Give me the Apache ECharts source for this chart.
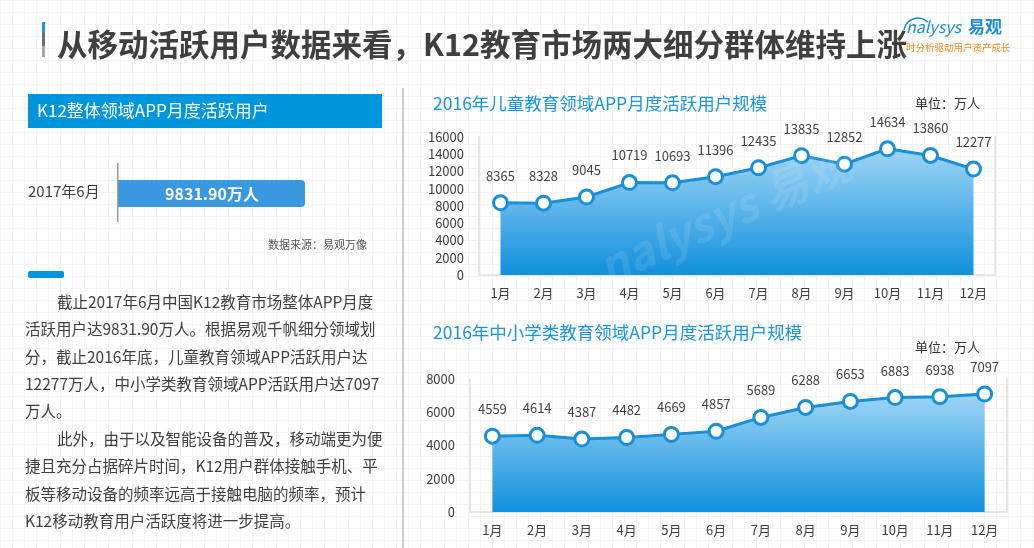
<!DOCTYPE html>
<html>
<head>
<meta charset="utf-8">
<script src="https://cdn.jsdelivr.net/npm/echarts@6/dist/echarts.min.js"></script>
<style>
html,body{margin:0;padding:0;width:1034px;height:548px;overflow:hidden;}
body{
  background-color:#ffffff;
  background-image:
    linear-gradient(to right, #f3f3f3 1px, transparent 1px),
    linear-gradient(to bottom, #f3f3f3 1px, transparent 1px);
  background-size:12px 12px;
}
#c{width:1034px;height:548px;}
</style>
</head>
<body>
<div id="c"></div>
<script>
// ---- data ----
var months = ['1月','2月','3月','4月','5月','6月','7月','8月','9月','10月','11月','12月'];
var childValues = [8365, 8328, 9045, 10719, 10693, 11396, 12435, 13835, 12852, 14634, 13860, 12277];
var k12Values = [4559, 4614, 4387, 4482, 4669, 4857, 5689, 6288, 6653, 6883, 6938, 7097];
var childTicks = {min: 0, max: 16000, interval: 2000};
var k12Ticks = {min: 0, max: 8000, interval: 2000};
var pageTitle = '从移动活跃用户数据来看，K12教育市场两大细分群体维持上涨';
var chart1Title = '2016年儿童教育领域APP月度活跃用户规模';
var chart2Title = '2016年中小学类教育领域APP月度活跃用户规模';
var unitText = '单位：万人';
var overallLabel = '2017年6月';
var overallValue = '9831.90万人';
var paragraphLines = [
  '截止2017年6月中国K12教育市场整体APP月度',
  '活跃用户达9831.90万人。根据易观千帆细分领域划',
  '分，截止2016年底，儿童教育领域APP活跃用户达',
  '12277万人，中小学类教育领域APP活跃用户达7097',
  '万人。',
  '此外，由于以及智能设备的普及，移动端更为便',
  '捷且充分占据碎片时间，K12用户群体接触手机、平',
  '板等移动设备的频率远高于接触电脑的频率，预计',
  'K12移动教育用户活跃度将进一步提高。'
];
var indentLines = [0, 5];

var FONT = '"Noto Sans CJK SC", "Noto Sans", sans-serif';
var chart = echarts.init(document.getElementById('c'));

var graphics = [];
// title accent bar
graphics.push({type:'rect', shape:{x:42,y:22,width:3,height:11}, style:{fill:'#1296db'}});
graphics.push({type:'rect', shape:{x:42,y:33,width:3,height:13}, style:{fill:'#6e6e6e'}});
graphics.push({type:'rect', shape:{x:42,y:46,width:3,height:11}, style:{fill:'#a8a8a8'}});
graphics.push({type:'text', x:57, y:44, style:{text:pageTitle, font:'bold 30.5px ' + FONT, fill:'#3f3f3f', textVerticalAlign:'middle'}});
// logo
graphics.push({type:'arc', shape:{cx:918, cy:32, r:14, startAngle:Math.PI*1.05, endAngle:Math.PI*1.75}, style:{stroke:'#1a8cd8', lineWidth:1.5, fill:null}});
graphics.push({type:'text', x:906, y:27, style:{text:'nalysys', font:'italic 16px ' + FONT, fill:'#1a8cd8', textVerticalAlign:'middle'}});
graphics.push({type:'text', x:968, y:27, style:{text:'易观', font:'bold 17px ' + FONT, fill:'#1a8cd8', textVerticalAlign:'middle'}});
graphics.push({type:'text', x:906, y:47, style:{text:'时分析驱动用户资产成长', font:'9.5px ' + FONT, fill:'#f08c1e', textVerticalAlign:'middle'}});
// divider
graphics.push({type:'rect', shape:{x:402,y:88,width:2,height:460}, style:{fill:'#cccccc'}});
// left header box
graphics.push({type:'rect', shape:{x:28,y:94,width:354,height:34}, style:{fill:'#0096dc'}});
graphics.push({type:'text', x:37, y:111, style:{text:'K12整体领域APP月度活跃用户', font:'17px ' + FONT, fill:'#ffffff', textVerticalAlign:'middle'}});
// overall value
graphics.push({type:'text', x:28, y:191, style:{text:overallLabel, font:'15px ' + FONT, fill:'#404040', textVerticalAlign:'middle'}});
graphics.push({type:'rect', shape:{x:118,y:180,width:187,height:27,r:[0,4,4,0]}, style:{fill:'#3a98e0'}});
graphics.push({type:'rect', shape:{x:117,y:163,width:1.5,height:59}, style:{fill:'#999999'}});
graphics.push({type:'text', x:212, y:194, style:{text:overallValue, font:'bold 16px ' + FONT, fill:'#ffffff', textAlign:'center', textVerticalAlign:'middle'}});
graphics.push({type:'text', x:268, y:245, style:{text:'数据来源：易观万像', font:'11px ' + FONT, fill:'#555555', textVerticalAlign:'middle'}});
graphics.push({type:'rect', shape:{x:28,y:271,width:36,height:7,r:2}, style:{fill:'#0096dc'}});
// paragraph
paragraphLines.forEach(function(t, i){
  graphics.push({type:'text', x: indentLines.indexOf(i) >= 0 ? 57 : 25, y: 302 + i*27.4,
    style:{text:t, font:'15.5px ' + FONT, fill:'#404040', textVerticalAlign:'middle'}});
});
// chart titles
graphics.push({type:'text', x:433, y:103, style:{text:chart1Title, font:'17.5px ' + FONT, fill:'#1a94dc', textVerticalAlign:'middle'}});
graphics.push({type:'text', x:915, y:103, style:{text:unitText, font:'13px ' + FONT, fill:'#333333', textVerticalAlign:'middle'}});
graphics.push({type:'text', x:433, y:332, style:{text:chart2Title, font:'17.5px ' + FONT, fill:'#1a94dc', textVerticalAlign:'middle'}});
graphics.push({type:'text', x:915, y:347, style:{text:unitText, font:'13px ' + FONT, fill:'#333333', textVerticalAlign:'middle'}});
// watermark
graphics.push({type:'text', x:600, y:270, rotation:0.42, z:100, style:{text:'nalysys 易观', font:'italic bold 46px ' + FONT, fill:'rgba(255,255,255,0.1)', textVerticalAlign:'middle'}});

var areaGrad = new echarts.graphic.LinearGradient(0,0,0,1,[
  {offset:0, color:'#9fd5f6'},
  {offset:1, color:'#1190dc'}
]);
var lineColor = '#1a8fd9';
var borderColor = '#e6e6e6';

function xAx(gi){
  return {type:'category', gridIndex:gi, data:months, boundaryGap:true,
    axisLine:{show:true, lineStyle:{color:borderColor, width:2}},
    axisTick:{show:false},
    axisLabel:{color:'#404040', fontSize:13, margin:12, fontFamily:FONT},
    splitLine:{show:false}};
}
function yAx(gi, t){
  return {type:'value', gridIndex:gi, min:t.min, max:t.max, interval:t.interval,
    axisLine:{show:true, lineStyle:{color:borderColor, width:2}},
    axisTick:{show:false},
    axisLabel:{color:'#404040', fontSize:13, margin:15, fontFamily:FONT,
      formatter:function(v){ return String(v); }},
    splitLine:{show:false}};
}
function yRight(gi, t){
  return {type:'value', gridIndex:gi, position:'right', min:t.min, max:t.max, interval:t.interval,
    axisLine:{show:true, lineStyle:{color:borderColor, width:2}},
    axisTick:{show:false}, axisLabel:{show:false}, splitLine:{show:false}};
}
function ser(xi, yi, data){
  return {type:'line', xAxisIndex:xi, yAxisIndex:yi, data:data,
    symbol:'circle', symbolSize:14, showAllSymbol:true,
    itemStyle:{color:'#ffffff', borderColor:lineColor, borderWidth:3},
    lineStyle:{color:lineColor, width:3},
    areaStyle:{color:areaGrad, opacity:1},
    label:{show:true, position:'top', distance:12, color:'#444444', fontSize:13, fontFamily:FONT, formatter:'{c}'},
    z:3};
}

chart.setOption({
  animation:false,
  backgroundColor:'transparent',
  textStyle:{fontFamily:FONT},
  grid:[
    {left:479, right:39, top:137, bottom:273},
    {left:470, right:27, top:379, bottom:36}
  ],
  xAxis:[xAx(0), xAx(1)],
  yAxis:[yAx(0, childTicks), yRight(0, childTicks), yAx(1, k12Ticks), yRight(1, k12Ticks)],
  series:[ser(0, 0, childValues), ser(1, 2, k12Values)],
  graphic:graphics
});
</script>
</body>
</html>
